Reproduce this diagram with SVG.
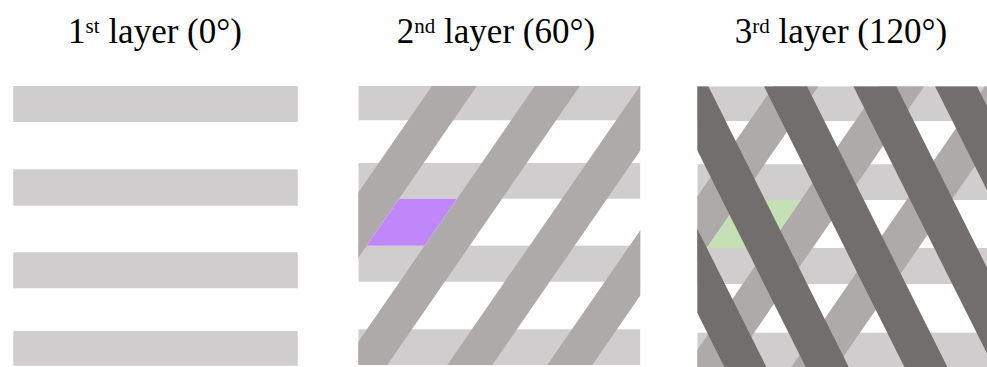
<svg xmlns="http://www.w3.org/2000/svg" width="987" height="367" viewBox="0 0 987 367">
<style>
.t{font-family:"Liberation Serif","Times New Roman",serif;font-size:35px;fill:#000;text-anchor:middle}
.lt{fill:#cfcdce}
.md{fill:#adaaa9}
.dk{fill:#726e6d}
</style>
<defs>
<clipPath id="c2"><rect x="358.3" y="85.7" width="282" height="279.3"/></clipPath>
<clipPath id="c3"><rect x="697.3" y="86.3" width="290" height="281"/></clipPath>
</defs>
<rect width="987" height="367" fill="#fff"/>
<g id="titles">
<text class="t" x="155" y="43">1<tspan dy="-10" font-size="21">st</tspan><tspan dy="10"> layer (0°)</tspan></text>
<text class="t" x="496" y="43">2<tspan dy="-10" font-size="21">nd</tspan><tspan dy="10"> layer (60°)</tspan></text>
<text class="t" x="841" y="43">3<tspan dy="-10" font-size="21">rd</tspan><tspan dy="10"> layer (120°)</tspan></text>
</g>
<g id="panel1">
<rect class="lt" x="13.3" y="86" width="284.4" height="36"/>
<rect class="lt" x="13.3" y="169.3" width="284.4" height="36.4"/>
<rect class="lt" x="13.3" y="252.3" width="284.4" height="36"/>
<rect class="lt" x="13.3" y="331" width="284.4" height="34.7"/>
</g>
<g id="panel2" clip-path="url(#c2)">
<rect class="lt" x="358.3" y="85.7" width="282" height="34.6"/>
<rect class="lt" x="358.3" y="163" width="282" height="35.7"/>
<rect class="lt" x="358.3" y="245.7" width="282" height="36"/>
<rect class="lt" x="358.3" y="329.3" width="282" height="35.7"/>
<polygon class="md" points="432,85.7 477,85.7 284.3,365 239.3,365"/>
<polygon class="md" points="535,85.7 580,85.7 387.3,365 342.3,365"/>
<polygon class="md" points="640,85.7 685,85.7 492.3,365 447.3,365"/>
<polygon class="md" points="740,85.7 785,85.7 592.3,365 547.3,365"/>
<polygon id="purple-cell" fill="#bf87fa" points="399,198.7 457,198.7 424.6,245.7 366.6,245.7"/>
</g>
<g id="panel3" clip-path="url(#c3)">
<rect class="lt" x="697.3" y="86.3" width="290" height="34.7"/>
<rect class="lt" x="697.3" y="164.3" width="290" height="35.7"/>
<rect class="lt" x="697.3" y="248" width="290" height="36"/>
<rect class="lt" x="697.3" y="332.7" width="290" height="34.3"/>
<polygon class="md" points="773.4,86.3 818.4,86.3 624.7,367 579.7,367"/>
<polygon class="md" points="879.2,86.3 924.2,86.3 730.5,367 685.5,367"/>
<polygon class="md" points="985,86.3 1030,86.3 836.3,367 791.3,367"/>
<polygon id="green-cell" fill="#c5e0b4" points="740,200 800.7,200 767.6,248 706.8,248"/>
<polygon class="dk" points="584,86.3 626,86.3 766.4,367 724.4,367"/>
<polygon class="dk" points="665.3,86.3 708.3,86.3 848.7,367 805.7,367"/>
<polygon class="dk" points="764,86.3 807,86.3 947.4,367 904.4,367"/>
<polygon class="dk" points="853.3,86.3 896.3,86.3 1036.7,367 993.7,367"/>
<polygon class="dk" points="935,86.3 977,86.3 1117.4,367 1075.4,367"/>
</g>
</svg>
